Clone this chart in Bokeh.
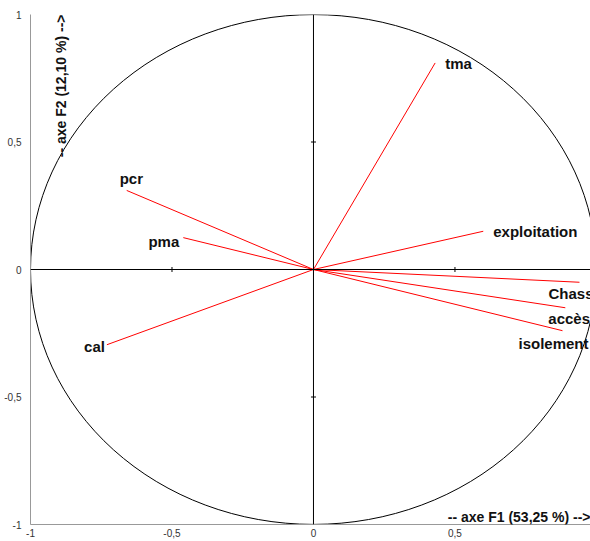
import math
from bokeh.plotting import figure
from bokeh.models import Range1d, FixedTicker, Span, Label, ColumnDataSource
from bokeh.core.properties import value
from bokeh.embed import file_html
from bokeh.resources import INLINE

# ---- data (correlation circle, F1 x F2) ----
variables = ["tma", "exploitation", "Chasse", "accès", "isolement", "pcr", "pma", "cal"]
f1 = [0.43, 0.60, 0.94, 0.89, 0.88, -0.66, -0.46, -0.73]
f2 = [0.81, 0.15, -0.05, -0.15, -0.24, 0.31, 0.125, -0.295]

x_ticks = [-1, -0.5, 0, 0.5]
y_ticks = [-1, -0.5, 0, 0.5, 1]
tick_text = {-1: "-1", -0.5: "-0,5", 0: "0", 0.5: "0,5", 1: "1"}

x_title = "-- axe F1 (53,25 %) -->"
y_title = "-- axe F2 (12,10 %) -->"

# ---- label placement (styling) ----
lab_align = ["left", "left", "left", "left", "left", "left", "right", "right"]
lab_dx = [10, 10, -31, -17, -44, -7, -4, -2]
lab_dy = [1, 0, 11, 11, 13, -12, 4, 2]

FONT = "Liberation Sans"

p = figure(width=590, height=541, output_backend="svg", toolbar_location=None,
           x_range=Range1d(-1, 0.979), y_range=Range1d(-1, 1),
           min_border_left=30, min_border_right=0, min_border_top=14, min_border_bottom=17)
p.outline_line_color = None
p.grid.visible = False
p.background_fill_color = "white"
p.border_fill_color = "white"

for ax, ticks in ((p.xaxis[0], x_ticks), (p.yaxis[0], y_ticks)):
    ax.ticker = FixedTicker(ticks=ticks)
    ax.major_label_overrides = {t: tick_text[t] for t in ticks}
    ax.major_tick_line_color = None
    ax.minor_tick_line_color = None
    ax.major_tick_in = 0
    ax.major_tick_out = 0
    ax.axis_line_color = "#999999"
    ax.major_label_text_font = FONT
    ax.major_label_text_font_size = "10px"
    ax.major_label_text_color = "#333333"
p.xaxis.major_label_standoff = 4
p.yaxis.major_label_standoff = 9

# zero lines
p.add_layout(Span(location=0, dimension="width", line_color="black", line_width=1))
p.add_layout(Span(location=0, dimension="height", line_color="black", line_width=1))
inner = [t for t in y_ticks if t not in (-1, 0, 1)]
p.scatter(x=inner, y=[0] * len(inner), marker="dash", size=5, angle=math.pi / 2,
          line_color="black", line_width=1)
p.scatter(x=[0] * len(inner), y=inner, marker="dash", size=5,
          line_color="black", line_width=1)

# unit circle
p.ellipse(x=0, y=0, width=2, height=2, fill_color=None, line_color="black", line_width=1)

src = ColumnDataSource(dict(x=f1, y=f2, x0=[0] * len(f1), y0=[0] * len(f1), name=variables,
                            align=lab_align, dx=lab_dx, dy=lab_dy))
p.segment(x0="x0", y0="y0", x1="x", y1="y", source=src, line_color="red", line_width=1)
p.text(x="x", y="y", text="name", source=src, text_align="align", text_baseline="middle",
       x_offset="dx", y_offset="dy", text_font=value(FONT), text_font_style="bold",
       text_font_size="15px", text_color="#111111")

p.add_layout(Label(x=p.x_range.end, y=-1, x_offset=0, y_offset=8, text=x_title,
                   text_align="right", text_baseline="middle", text_font=FONT,
                   text_font_style="bold", text_font_size="14px", text_color="#111111"))
p.add_layout(Label(x=-1, y=1, x_offset=30, y_offset=0, text=y_title, angle=math.pi / 2,
                   text_align="right", text_baseline="middle", text_font=FONT,
                   text_font_style="bold", text_font_size="14px", text_color="#111111"))

open("out.html", "w").write(file_html(p, INLINE))
